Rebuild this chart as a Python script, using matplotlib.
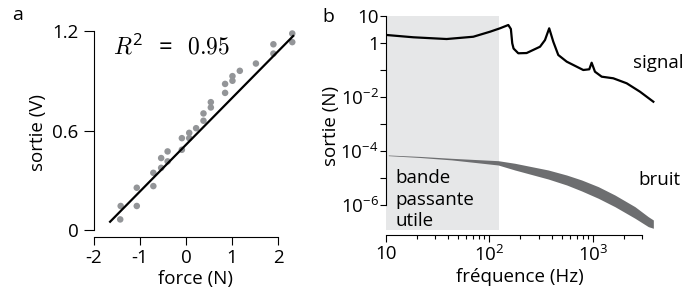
import matplotlib
matplotlib.use("Agg")
import matplotlib.pyplot as plt
import matplotlib.ticker as mticker
import numpy as np

plt.rcParams['font.family'] = ['Open Sans', 'DejaVu Sans']
plt.rcParams['mathtext.fontset'] = 'custom'
plt.rcParams['mathtext.rm'] = 'Open Sans'
plt.rcParams['mathtext.it'] = 'Open Sans:italic'
plt.rcParams['mathtext.bf'] = 'Open Sans:bold'
plt.rcParams['mathtext.default'] = 'regular'
plt.rcParams['font.size'] = 13.5

# ---- panel a data ----
force = [-1.42, -1.43, -1.07, -1.07, -0.71, -0.71, -0.54, -0.54, -0.40, -0.40,
         -0.09, -0.09, 0.07, 0.07, 0.22, 0.38, 0.38, 0.54, 0.54, 0.85, 0.85,
         1.01, 1.01, 1.17, 1.52, 1.90, 1.90, 2.31, 2.31]
sortie = [0.145, 0.064, 0.255, 0.145, 0.345, 0.265, 0.434, 0.375, 0.474, 0.414,
          0.554, 0.484, 0.586, 0.554, 0.614, 0.703, 0.659, 0.771, 0.739, 0.827, 0.881,
          0.928, 0.900, 0.960, 1.004, 1.120, 1.064, 1.185, 1.133]
fit_x = [-1.65, 2.33]
fit_y = [0.05, 1.17]
xticks_a = [-2, -1, 0, 1, 2]
xticklabels_a = ['-2', '-1', '0', '1', '2']
yticks_a = [0, 0.6, 1.2]
yticklabels_a = ['0', '0.6', '1.2']

# ---- panel b data ----
sig_f = [10.2, 18.5, 38.8, 70.2, 102, 127, 153, 162, 167, 172, 191, 230, 310, 346,
         380, 416, 465, 561, 811, 927, 977, 1052, 1222, 1581, 2131, 2865, 3855]
sig_v = [2.03, 1.67, 1.44, 1.75, 2.69, 3.59, 4.76, 3.39, 1.0, 0.64, 0.427, 0.436,
         0.748, 1.32, 3.59, 1.15, 0.369, 0.209, 0.1026, 0.109, 0.191, 0.0887, 0.058,
         0.0506, 0.033, 0.0161, 0.00687]
noise_f = [10.6, 21.4, 43.4, 122, 177, 372, 561, 783, 1133, 1641, 2563, 3445, 3855]
noise_hi = [7.3e-5, 6.46e-5, 5.5e-5, 4.49e-5, 3.6e-5, 2.03e-5, 1.32e-5, 8.65e-6,
            4.9e-6, 2.4e-6, 8.87e-7, 3.78e-7, 2.86e-7]
noise_lo = [6.9e-5, 5.9e-5, 4.8e-5, 3.11e-5, 2.03e-5, 9.4e-6, 5.65e-6, 3.39e-6,
            1.82e-6, 8.87e-7, 3.31e-7, 1.62e-7, 1.41e-7]
band_f = [10, 125]
band_y = [1.2e-7, 10]
yticks_b = [1e1, 1e0, 1e-1, 1e-2, 1e-3, 1e-4, 1e-5, 1e-6]
ylabels_b = ['10', '1', '', r'$10^{-2}$', '', r'$10^{-4}$', '', r'$10^{-6}$']
xticks_b = [10, 100, 1000]
xlabels_b = ['10', r'$10^{2}$', r'$10^{3}$']
xminor_b = [20, 30, 40, 50, 60, 70, 80, 90, 200, 300, 400, 500, 600, 700, 800, 900,
            2000, 3000]

W, H = 687, 302
fig = plt.figure(figsize=(W / 100, H / 100), dpi=100)

def pax(l, r, t, b):
    return fig.add_axes([l / W, (H - b) / H, (r - l) / W, (b - t) / H])

# ---- panel a ----
ax = pax(94, 296.4, 27.7, 237)
ax.scatter(force, sortie, s=22, color='#939598', edgecolors='none', zorder=2)
ax.plot(fit_x, fit_y, color='black', lw=1.6, zorder=3)
ax.set_xlim(-2, 2.4)
ax.set_ylim(-0.042, 1.22)
for s in ['top', 'right']:
    ax.spines[s].set_visible(False)
ax.spines['left'].set_bounds(0, 1.2)
ax.spines['bottom'].set_bounds(-2, 2)
ax.set_xticks(xticks_a)
ax.set_xticklabels(xticklabels_a)
ax.set_yticks(yticks_a)
ax.set_yticklabels(yticklabels_a)
ax.tick_params(axis='y', direction='out', length=7, width=0.8, pad=4)
ax.tick_params(axis='x', direction='out', length=5.5, width=0.8, pad=3)
ax.set_xlabel('force (N)', labelpad=2)
ax.set_ylabel('sortie (V)', labelpad=4)
ax.text(-1.59, 1.1, r'$\mathit{R}^2\;\;=\;\;\mathrm{0.95}$', fontsize=17,
        math_fontfamily='cm', va='center')
fig.text(18 / W, 1 - 15 / H, 'a', fontsize=14, ha='center', va='center')

# ---- panel b ----
bx = pax(385.7, 655, 16.3, 235)
bx.set_xscale('log')
bx.set_yscale('log')
bx.fill_between(band_f, band_y[0], band_y[1], color='#e6e7e8', lw=0, zorder=0)
bx.fill_between(noise_f, noise_lo, noise_hi, color='#6d6e70', lw=0, zorder=2)
bx.plot(sig_f, sig_v, color='black', lw=1.6, zorder=3)
bx.set_xlim(10, 4000)
bx.set_ylim(10 ** -7.1, 10)
for s in ['top', 'right']:
    bx.spines[s].set_visible(False)
bx.spines['left'].set_bounds(1e-6, 10)
bx.spines['bottom'].set_bounds(10, 3000)
bx.yaxis.set_major_locator(mticker.FixedLocator(yticks_b))
bx.yaxis.set_major_formatter(mticker.FixedFormatter(ylabels_b))
bx.yaxis.set_minor_locator(mticker.NullLocator())
bx.xaxis.set_major_locator(mticker.FixedLocator(xticks_b))
bx.xaxis.set_major_formatter(mticker.FixedFormatter(xlabels_b))
bx.xaxis.set_minor_locator(mticker.FixedLocator(xminor_b))
bx.xaxis.set_minor_formatter(mticker.NullFormatter())
bx.tick_params(axis='y', direction='out', length=4, width=0.8, pad=1)
bx.tick_params(axis='x', which='major', direction='out', length=5, width=0.8, pad=2)
bx.tick_params(axis='x', which='minor', direction='out', length=3, width=0.8)
bx.set_xlabel('fréquence (Hz)', labelpad=2)
bx.set_ylabel('sortie (N)', labelpad=0)
bx.text(0.035, 0.30, 'bande\npassante\nutile', transform=bx.transAxes, va='top', ha='left',
        linespacing=1.25)
fig.text(633 / W, 1 - 63 / H, 'signal', ha='left', va='center')
fig.text(638 / W, 1 - 180 / H, 'bruit', ha='left', va='center')
fig.text(328 / W, 1 - 17 / H, 'b', fontsize=14, ha='center', va='center')

fig.savefig('out.png', dpi=100)
